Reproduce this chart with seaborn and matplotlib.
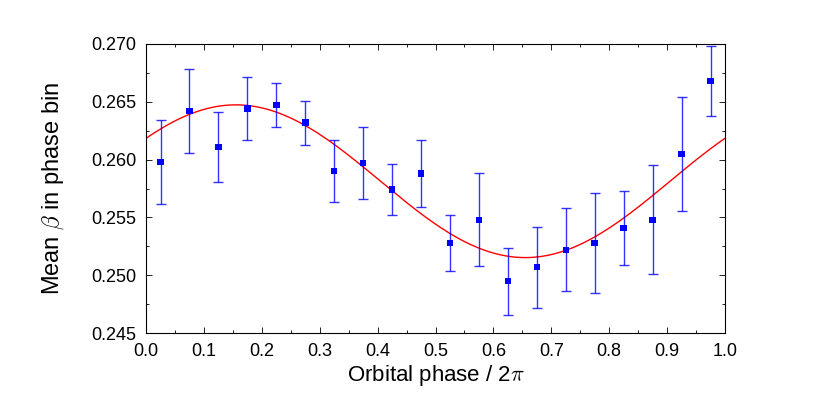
import numpy as np
import pandas as pd
import matplotlib
matplotlib.use("Agg")
import matplotlib.pyplot as plt
import seaborn as sns
from matplotlib.ticker import MultipleLocator, FormatStrFormatter

# phase bin centres and mean beta per bin
phase = [0.025, 0.075, 0.125, 0.175, 0.225, 0.275, 0.325, 0.375, 0.425, 0.475,
         0.525, 0.575, 0.625, 0.675, 0.725, 0.775, 0.825, 0.875, 0.925, 0.975]
beta = [0.2598, 0.2642, 0.2611, 0.2644, 0.2647, 0.2632, 0.2590, 0.2597, 0.2574, 0.2588,
        0.2528, 0.2548, 0.2495, 0.2507, 0.2522, 0.2528, 0.2541, 0.2548, 0.2605, 0.2668]
beta_err = [0.0036, 0.0036, 0.0030, 0.0027, 0.0019, 0.0019, 0.0027, 0.0031, 0.0022, 0.0029,
            0.0024, 0.0040, 0.0029, 0.0035, 0.0036, 0.0043, 0.0032, 0.0047, 0.0049, 0.0030]

# sinusoidal fit: offset + amp * cos(2 pi (phi - phi_max))
fit_offset = 0.25813
fit_amp = 0.00660
fit_phi_max = 0.155

df = pd.DataFrame({"phase": phase, "beta": beta, "err": beta_err})
phi = np.linspace(0, 1, 400)
fit = pd.DataFrame({"phase": phi,
                    "beta": fit_offset + fit_amp * np.cos(2 * np.pi * (phi - fit_phi_max))})

sns.set_style("ticks")
plt.rcParams["font.family"] = ["Liberation Sans", "DejaVu Sans"]
plt.rcParams["mathtext.fontset"] = "cm"
plt.rcParams["text.color"] = "black"
plt.rcParams["axes.labelcolor"] = "black"
plt.rcParams["xtick.color"] = "black"
plt.rcParams["ytick.color"] = "black"
plt.rcParams["axes.edgecolor"] = "black"

fig, ax = plt.subplots(figsize=(8.3, 4.18), dpi=100)
fig.subplots_adjust(left=0.176, right=0.8735, top=0.895, bottom=0.203)

sns.lineplot(data=fit, x="phase", y="beta", color="#ff0000", linewidth=1, ax=ax)
ax.errorbar(df["phase"], df["beta"], yerr=df["err"], fmt="none", ecolor="#0000ff",
            elinewidth=1, capsize=3.5, capthick=1, alpha=0.8)
sns.scatterplot(data=df, x="phase", y="beta", marker="s", color="#0000ff",
                s=22, edgecolor="none", ax=ax, zorder=5)

ax.set_xlim(0, 1.0)
ax.set_ylim(0.245, 0.270)
ax.xaxis.set_major_locator(MultipleLocator(0.1))
ax.xaxis.set_minor_locator(MultipleLocator(0.05))
ax.yaxis.set_major_locator(MultipleLocator(0.005))
ax.yaxis.set_minor_locator(MultipleLocator(0.0025))
ax.xaxis.set_major_formatter(FormatStrFormatter("%.1f"))
ax.yaxis.set_major_formatter(FormatStrFormatter("%.3f"))
ax.tick_params(which="both", direction="in", top=True, right=True, labelsize=13, width=0.6)
ax.tick_params(which="major", length=4)
ax.tick_params(which="minor", length=2.5)
ax.tick_params(axis="x", which="major", pad=7)
ax.tick_params(axis="y", which="major", pad=7)
for s in ax.spines.values():
    s.set_linewidth(0.8)

ax.set_xlabel(r"Orbital phase / 2$\pi$", fontsize=16, labelpad=2)
ax.set_ylabel(r"Mean $\beta$ in phase bin", fontsize=17, labelpad=18)

fig.savefig("out.png", dpi=100)
